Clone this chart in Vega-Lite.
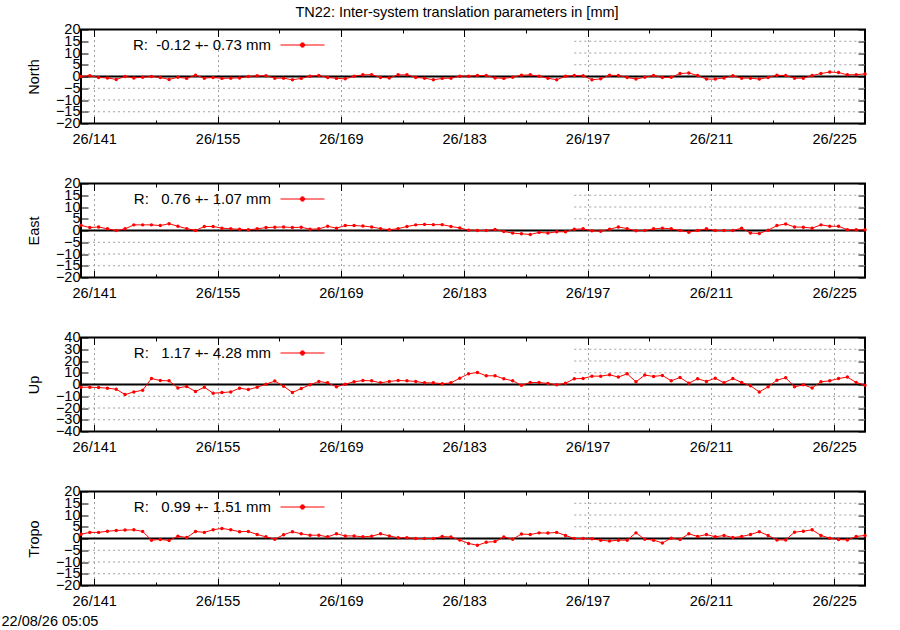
{
  "$schema": "https://vega.github.io/schema/vega-lite/v6.json",
  "description": "TN22 inter-system translation parameters, four stacked panels",
  "padding": {"left": 0, "top": 4.5, "right": 10, "bottom": 0},
  "title": {
    "text": "TN22: Inter-system translation parameters in [mm]",
    "font": "Liberation Sans",
    "fontSize": 14.5,
    "fontWeight": "normal",
    "color": "black",
    "anchor": "middle",
    "dx": 23,
    "offset": 0
  },
  "datasets": {
    "gnss": [
      {"day": 139.5, "north": 0, "east": 2.2, "up": -2.3, "tropo": 1.85},
      {"day": 140.5, "north": 0.3, "east": 1.25, "up": -2.3, "tropo": 2.6},
      {"day": 141.5, "north": -0.4, "east": 1.5, "up": -2.6, "tropo": 2.6},
      {"day": 142.5, "north": -0.6, "east": 0.7, "up": -3.1, "tropo": 3.1},
      {"day": 143.5, "north": -1.25, "east": 0, "up": -4.0, "tropo": 3.4},
      {"day": 144.5, "north": 0, "east": 0.7, "up": -8.6, "tropo": 3.6},
      {"day": 145.5, "north": -0.6, "east": 2.4, "up": -6.3, "tropo": 3.7},
      {"day": 146.5, "north": -0.3, "east": 2.4, "up": -4.9, "tropo": 3.0},
      {"day": 147.5, "north": 0, "east": 2.4, "up": 5.1, "tropo": -0.7},
      {"day": 148.5, "north": -0.4, "east": 2.1, "up": 3.4, "tropo": -0.4},
      {"day": 149.5, "north": -1.25, "east": 2.9, "up": 3.1, "tropo": -0.85},
      {"day": 150.5, "north": -0.3, "east": 1.8, "up": -2.9, "tropo": 1.0},
      {"day": 151.5, "north": -0.8, "east": 0.8, "up": -1.7, "tropo": 0.4},
      {"day": 152.5, "north": 0.55, "east": 0, "up": -6.0, "tropo": 3.0},
      {"day": 153.5, "north": -0.7, "east": 1.7, "up": -2.3, "tropo": 2.6},
      {"day": 154.5, "north": -0.4, "east": 1.7, "up": -7.4, "tropo": 3.7},
      {"day": 155.5, "north": -0.8, "east": 1.0, "up": -6.9, "tropo": 4.3},
      {"day": 156.5, "north": -0.7, "east": 0.7, "up": -6.3, "tropo": 3.7},
      {"day": 157.5, "north": -0.6, "east": 0.55, "up": -3.1, "tropo": 2.9},
      {"day": 158.5, "north": 0, "east": 0.3, "up": -4.3, "tropo": 3.0},
      {"day": 159.5, "north": 0.3, "east": 0.7, "up": -2.3, "tropo": 1.7},
      {"day": 160.5, "north": 0.3, "east": 1.25, "up": 0.3, "tropo": 0.7},
      {"day": 161.5, "north": -0.7, "east": 1.4, "up": 2.9, "tropo": -0.3},
      {"day": 162.5, "north": -0.7, "east": 1.5, "up": -1.4, "tropo": 1.6},
      {"day": 163.5, "north": -1.4, "east": 1.25, "up": -6.9, "tropo": 2.9},
      {"day": 164.5, "north": -0.8, "east": 1.4, "up": -3.4, "tropo": 2.0},
      {"day": 165.5, "north": 0.15, "east": 0.55, "up": -0.3, "tropo": 1.4},
      {"day": 166.5, "north": 0.4, "east": 0.7, "up": 2.6, "tropo": 1.4},
      {"day": 167.5, "north": -0.4, "east": 1.8, "up": 1.4, "tropo": 0.7},
      {"day": 168.5, "north": -0.8, "east": 1.0, "up": -2.0, "tropo": 2.0},
      {"day": 169.5, "north": -1.0, "east": 2.1, "up": 0.3, "tropo": 1.1},
      {"day": 170.5, "north": 0.15, "east": 2.1, "up": 2.3, "tropo": 1.1},
      {"day": 171.5, "north": 0.7, "east": 1.9, "up": 3.4, "tropo": 0.7},
      {"day": 172.5, "north": 0.8, "east": 1.5, "up": 3.1, "tropo": 1.0},
      {"day": 173.5, "north": -0.4, "east": 0.8, "up": 1.4, "tropo": 2.0},
      {"day": 174.5, "north": -0.6, "east": 0.3, "up": 2.6, "tropo": 1.1},
      {"day": 175.5, "north": 0.7, "east": 0.8, "up": 3.4, "tropo": 0.3},
      {"day": 176.5, "north": 0.7, "east": 1.7, "up": 3.1, "tropo": 0.3},
      {"day": 177.5, "north": -0.4, "east": 2.4, "up": 2.6, "tropo": 0},
      {"day": 178.5, "north": -0.7, "east": 2.6, "up": 1.4, "tropo": 0},
      {"day": 179.5, "north": -1.4, "east": 2.5, "up": 1.4, "tropo": 0},
      {"day": 180.5, "north": -0.8, "east": 2.5, "up": 0.6, "tropo": 0.85},
      {"day": 181.5, "north": -0.7, "east": 1.7, "up": 1.4, "tropo": 0.6},
      {"day": 182.5, "north": 0.15, "east": 1.1, "up": 5.4, "tropo": -0.6},
      {"day": 183.5, "north": 0.15, "east": 0.15, "up": 9.1, "tropo": -2.1},
      {"day": 184.5, "north": 0.4, "east": 0, "up": 10.3, "tropo": -2.9},
      {"day": 185.5, "north": 0.4, "east": 0, "up": 7.4, "tropo": -1.6},
      {"day": 186.5, "north": -0.6, "east": 0.4, "up": 7.4, "tropo": -1.3},
      {"day": 187.5, "north": -0.8, "east": -0.4, "up": 4.9, "tropo": 0.6},
      {"day": 188.5, "north": -0.3, "east": -1.1, "up": 3.1, "tropo": -0.3},
      {"day": 189.5, "north": 0.55, "east": -1.4, "up": -0.6, "tropo": 1.9},
      {"day": 190.5, "north": 0.7, "east": -1.7, "up": 1.7, "tropo": 1.7},
      {"day": 191.5, "north": 0.15, "east": -0.8, "up": 1.7, "tropo": 2.4},
      {"day": 192.5, "north": -0.7, "east": -1.1, "up": 0.9, "tropo": 2.3},
      {"day": 193.5, "north": -1.4, "east": -0.55, "up": -0.3, "tropo": 2.6},
      {"day": 194.5, "north": 0.15, "east": -0.55, "up": 1.1, "tropo": 1.3},
      {"day": 195.5, "north": 0.4, "east": 0.55, "up": 4.9, "tropo": 0},
      {"day": 196.5, "north": 0.3, "east": 0.7, "up": 5.1, "tropo": 0},
      {"day": 197.5, "north": -1.4, "east": -0.15, "up": 7.1, "tropo": -0.15},
      {"day": 198.5, "north": -1.0, "east": -0.3, "up": 7.1, "tropo": -0.7},
      {"day": 199.5, "north": 0.55, "east": 0.55, "up": 8.3, "tropo": -1.1},
      {"day": 200.5, "north": 0.4, "east": 1.5, "up": 6.3, "tropo": -0.7},
      {"day": 201.5, "north": -0.4, "east": 0.8, "up": 9.1, "tropo": -0.7},
      {"day": 202.5, "north": -1.1, "east": -0.15, "up": 2.3, "tropo": 2.4},
      {"day": 203.5, "north": -0.3, "east": 0, "up": 8.0, "tropo": -0.3},
      {"day": 204.5, "north": 0.4, "east": 0.7, "up": 6.9, "tropo": -0.7},
      {"day": 205.5, "north": -0.4, "east": 1.0, "up": 7.7, "tropo": -1.9},
      {"day": 206.5, "north": -0.3, "east": 0.7, "up": 3.1, "tropo": 0.15},
      {"day": 207.5, "north": 1.25, "east": 0, "up": 6.0, "tropo": -0.4},
      {"day": 208.5, "north": 1.5, "east": -0.7, "up": 1.1, "tropo": 2.0},
      {"day": 209.5, "north": 0.4, "east": 0, "up": 4.9, "tropo": 0.85},
      {"day": 210.5, "north": -1.1, "east": 0.7, "up": 2.6, "tropo": 1.7},
      {"day": 211.5, "north": -1.1, "east": 0, "up": 5.4, "tropo": 0.7},
      {"day": 212.5, "north": -0.6, "east": 0, "up": 1.4, "tropo": 1.3},
      {"day": 213.5, "north": 0.3, "east": 0, "up": 5.1, "tropo": 0.4},
      {"day": 214.5, "north": -0.7, "east": 1.0, "up": 1.7, "tropo": 0.85},
      {"day": 215.5, "north": -0.7, "east": -1.1, "up": -1.1, "tropo": 1.7},
      {"day": 216.5, "north": -1.1, "east": -1.25, "up": -6.3, "tropo": 2.9},
      {"day": 217.5, "north": -0.4, "east": 0.15, "up": -2.0, "tropo": 1.3},
      {"day": 218.5, "north": 0.55, "east": 2.1, "up": 3.7, "tropo": -0.6},
      {"day": 219.5, "north": 0.4, "east": 2.8, "up": 5.7, "tropo": -0.6},
      {"day": 220.5, "north": -0.7, "east": 1.5, "up": -2.0, "tropo": 2.7},
      {"day": 221.5, "north": -0.7, "east": 1.4, "up": -0.3, "tropo": 3.1},
      {"day": 222.5, "north": 0.4, "east": 1.0, "up": -2.9, "tropo": 3.7},
      {"day": 223.5, "north": 1.25, "east": 2.4, "up": 2.3, "tropo": 1.3},
      {"day": 224.5, "north": 1.9, "east": 1.8, "up": 3.1, "tropo": 0.15},
      {"day": 225.5, "north": 1.7, "east": 1.8, "up": 5.1, "tropo": -0.4},
      {"day": 226.5, "north": 0.7, "east": 0.3, "up": 6.3, "tropo": -0.6},
      {"day": 227.5, "north": 0.8, "east": 0.3, "up": 1.7, "tropo": 0.85},
      {"day": 228.5, "north": 1.1, "east": 0.3, "up": -0.6, "tropo": 1.3}
    ]
  },
  "spacing": 60,
  "bounds": "flush",
  "resolve": {
    "scale": {"x": "independent", "y": "independent", "color": "independent"},
    "legend": {"color": "independent"}
  },
  "vconcat": [
    {
      "width": 784,
      "height": 94,
      "layer": [
        {
          "data": {"values": [{"tick": -5}, {"tick": -10}, {"tick": -15}]},
          "mark": {"type": "rule", "color": "#a0a0a0", "strokeDash": [2, 3]},
          "encoding": {
            "y": {"field": "tick", "type": "quantitative", "scale": {"domain": [-20, 20], "nice": false},
              "axis": {"orient": "right", "values": [-20, -15, -10, -5, 0, 5, 10, 15, 20], "labels": false, "tickSize": -7, "grid": false, "title": null}}
          }
        },
        {
          "data": {"values": [{"tick": 5}, {"tick": 10}, {"tick": 15}]},
          "mark": {"type": "rule", "color": "#a0a0a0", "strokeDash": [2, 3]},
          "encoding": {
            "x": {"datum": 195.5, "type": "quantitative", "scale": {"domain": [139.5, 228.5], "nice": false, "zero": false},
              "axis": {"orient": "top", "values": [141, 148, 155, 162, 169, 176, 183, 190, 197, 204, 211, 218, 225], "labels": false, "grid": false, "title": null,
                "tickSize": {"condition": {"test": "datum.value % 14 == 1", "value": -7}, "value": -3.5}}},
            "x2": {"datum": 228.5},
            "y": {"field": "tick", "type": "quantitative", "scale": {"domain": [-20, 20], "nice": false}, "axis": null}
          }
        },
        {
          "data": {"values": [{}]},
          "mark": {"type": "rule", "color": "black", "strokeWidth": 2},
          "encoding": {
            "x": {"datum": 139.5, "type": "quantitative", "scale": {"domain": [139.5, 228.5], "nice": false, "zero": false},
              "axis": {"orient": "bottom", "values": [148, 162, 176, 190, 204, 218], "labels": false, "grid": false, "title": null, "tickSize": -3.5}},
            "x2": {"datum": 228.5},
            "y": {"datum": 0, "type": "quantitative", "scale": {"domain": [-20, 20], "nice": false}, "axis": null}
          }
        },
        {
          "data": {"name": "gnss"},
          "mark": {"type": "line", "color": "red", "strokeWidth": 1, "point": {"filled": true, "size": 12}},
          "encoding": {
            "x": {"field": "day", "type": "quantitative", "scale": {"domain": [139.5, 228.5], "nice": false, "zero": false},
              "axis": {"orient": "bottom", "values": [141, 155, 169, 183, 197, 211, 225], "labelExpr": "'26/' + datum.value",
                "grid": true, "gridColor": "#a0a0a0", "gridDash": [2, 3], "tickSize": -7, "labelPadding": 16, "title": null}},
            "y": {"field": "north", "type": "quantitative", "scale": {"domain": [-20, 20], "nice": false},
              "axis": {"orient": "left", "values": [-20, -15, -10, -5, 0, 5, 10, 15, 20], "tickSize": -7, "labelPadding": 8, "grid": false,
                "title": "North", "titleX": -43, "titleY": 47, "titleAngle": -90, "titleBaseline": "alphabetic"}},
            "color": {"datum": "R:\u00a0 -0.12 +- 0.73 mm", "scale": {"range": ["red"]},
              "legend": {"orient": "none", "legendX": 199, "legendY": -7, "title": null, "padding": 0,
                "symbolType": "M-1,0L1,0M0.1,0A0.1,0.1,0,1,1,-0.1,0A0.1,0.1,0,1,1,0.1,0Z", "symbolSize": 1936,
                "labelAlign": "right", "labelOffset": -54, "labelLimit": 400,
                "encode": {"symbols": {"update": {"fill": {"value": "red"}, "stroke": {"value": "red"}, "strokeWidth": {"value": 1}}}}}}
          }
        }
      ],
      "resolve": {"axis": {"x": "independent", "y": "independent"}}
    },
    {
      "width": 784,
      "height": 94,
      "layer": [
        {
          "data": {"values": [{"tick": -5}, {"tick": -10}, {"tick": -15}]},
          "mark": {"type": "rule", "color": "#a0a0a0", "strokeDash": [2, 3]},
          "encoding": {
            "y": {"field": "tick", "type": "quantitative", "scale": {"domain": [-20, 20], "nice": false},
              "axis": {"orient": "right", "values": [-20, -15, -10, -5, 0, 5, 10, 15, 20], "labels": false, "tickSize": -7, "grid": false, "title": null}}
          }
        },
        {
          "data": {"values": [{"tick": 5}, {"tick": 10}, {"tick": 15}]},
          "mark": {"type": "rule", "color": "#a0a0a0", "strokeDash": [2, 3]},
          "encoding": {
            "x": {"datum": 195.5, "type": "quantitative", "scale": {"domain": [139.5, 228.5], "nice": false, "zero": false},
              "axis": {"orient": "top", "values": [141, 148, 155, 162, 169, 176, 183, 190, 197, 204, 211, 218, 225], "labels": false, "grid": false, "title": null,
                "tickSize": {"condition": {"test": "datum.value % 14 == 1", "value": -7}, "value": -3.5}}},
            "x2": {"datum": 228.5},
            "y": {"field": "tick", "type": "quantitative", "scale": {"domain": [-20, 20], "nice": false}, "axis": null}
          }
        },
        {
          "data": {"values": [{}]},
          "mark": {"type": "rule", "color": "black", "strokeWidth": 2},
          "encoding": {
            "x": {"datum": 139.5, "type": "quantitative", "scale": {"domain": [139.5, 228.5], "nice": false, "zero": false},
              "axis": {"orient": "bottom", "values": [148, 162, 176, 190, 204, 218], "labels": false, "grid": false, "title": null, "tickSize": -3.5}},
            "x2": {"datum": 228.5},
            "y": {"datum": 0, "type": "quantitative", "scale": {"domain": [-20, 20], "nice": false}, "axis": null}
          }
        },
        {
          "data": {"name": "gnss"},
          "mark": {"type": "line", "color": "red", "strokeWidth": 1, "point": {"filled": true, "size": 12}},
          "encoding": {
            "x": {"field": "day", "type": "quantitative", "scale": {"domain": [139.5, 228.5], "nice": false, "zero": false},
              "axis": {"orient": "bottom", "values": [141, 155, 169, 183, 197, 211, 225], "labelExpr": "'26/' + datum.value",
                "grid": true, "gridColor": "#a0a0a0", "gridDash": [2, 3], "tickSize": -7, "labelPadding": 16, "title": null}},
            "y": {"field": "east", "type": "quantitative", "scale": {"domain": [-20, 20], "nice": false},
              "axis": {"orient": "left", "values": [-20, -15, -10, -5, 0, 5, 10, 15, 20], "tickSize": -7, "labelPadding": 8, "grid": false,
                "title": "East", "titleX": -43, "titleY": 47, "titleAngle": -90, "titleBaseline": "alphabetic"}},
            "color": {"datum": "R:\u00a0 \u00a00.76 +- 1.07 mm", "scale": {"range": ["red"]},
              "legend": {"orient": "none", "legendX": 199, "legendY": -7, "title": null, "padding": 0,
                "symbolType": "M-1,0L1,0M0.1,0A0.1,0.1,0,1,1,-0.1,0A0.1,0.1,0,1,1,0.1,0Z", "symbolSize": 1936,
                "labelAlign": "right", "labelOffset": -54, "labelLimit": 400,
                "encode": {"symbols": {"update": {"fill": {"value": "red"}, "stroke": {"value": "red"}, "strokeWidth": {"value": 1}}}}}}
          }
        }
      ],
      "resolve": {"axis": {"x": "independent", "y": "independent"}}
    },
    {
      "width": 784,
      "height": 94,
      "layer": [
        {
          "data": {"values": [{"tick": -10}, {"tick": -20}, {"tick": -30}]},
          "mark": {"type": "rule", "color": "#a0a0a0", "strokeDash": [2, 3]},
          "encoding": {
            "y": {"field": "tick", "type": "quantitative", "scale": {"domain": [-40, 40], "nice": false},
              "axis": {"orient": "right", "values": [-40, -30, -20, -10, 0, 10, 20, 30, 40], "labels": false, "tickSize": -7, "grid": false, "title": null}}
          }
        },
        {
          "data": {"values": [{"tick": 10}, {"tick": 20}, {"tick": 30}]},
          "mark": {"type": "rule", "color": "#a0a0a0", "strokeDash": [2, 3]},
          "encoding": {
            "x": {"datum": 195.5, "type": "quantitative", "scale": {"domain": [139.5, 228.5], "nice": false, "zero": false},
              "axis": {"orient": "top", "values": [141, 148, 155, 162, 169, 176, 183, 190, 197, 204, 211, 218, 225], "labels": false, "grid": false, "title": null,
                "tickSize": {"condition": {"test": "datum.value % 14 == 1", "value": -7}, "value": -3.5}}},
            "x2": {"datum": 228.5},
            "y": {"field": "tick", "type": "quantitative", "scale": {"domain": [-40, 40], "nice": false}, "axis": null}
          }
        },
        {
          "data": {"values": [{}]},
          "mark": {"type": "rule", "color": "black", "strokeWidth": 2},
          "encoding": {
            "x": {"datum": 139.5, "type": "quantitative", "scale": {"domain": [139.5, 228.5], "nice": false, "zero": false},
              "axis": {"orient": "bottom", "values": [148, 162, 176, 190, 204, 218], "labels": false, "grid": false, "title": null, "tickSize": -3.5}},
            "x2": {"datum": 228.5},
            "y": {"datum": 0, "type": "quantitative", "scale": {"domain": [-40, 40], "nice": false}, "axis": null}
          }
        },
        {
          "data": {"name": "gnss"},
          "mark": {"type": "line", "color": "red", "strokeWidth": 1, "point": {"filled": true, "size": 12}},
          "encoding": {
            "x": {"field": "day", "type": "quantitative", "scale": {"domain": [139.5, 228.5], "nice": false, "zero": false},
              "axis": {"orient": "bottom", "values": [141, 155, 169, 183, 197, 211, 225], "labelExpr": "'26/' + datum.value",
                "grid": true, "gridColor": "#a0a0a0", "gridDash": [2, 3], "tickSize": -7, "labelPadding": 16, "title": null}},
            "y": {"field": "up", "type": "quantitative", "scale": {"domain": [-40, 40], "nice": false},
              "axis": {"orient": "left", "values": [-40, -30, -20, -10, 0, 10, 20, 30, 40], "tickSize": -7, "labelPadding": 8, "grid": false,
                "title": "Up", "titleX": -43, "titleY": 47, "titleAngle": -90, "titleBaseline": "alphabetic"}},
            "color": {"datum": "R:\u00a0 \u00a01.17 +- 4.28 mm", "scale": {"range": ["red"]},
              "legend": {"orient": "none", "legendX": 199, "legendY": -7, "title": null, "padding": 0,
                "symbolType": "M-1,0L1,0M0.1,0A0.1,0.1,0,1,1,-0.1,0A0.1,0.1,0,1,1,0.1,0Z", "symbolSize": 1936,
                "labelAlign": "right", "labelOffset": -54, "labelLimit": 400,
                "encode": {"symbols": {"update": {"fill": {"value": "red"}, "stroke": {"value": "red"}, "strokeWidth": {"value": 1}}}}}}
          }
        }
      ],
      "resolve": {"axis": {"x": "independent", "y": "independent"}}
    },
    {
      "width": 784,
      "height": 94,
      "layer": [
        {
          "data": {"values": [{"tick": -5}, {"tick": -10}, {"tick": -15}]},
          "mark": {"type": "rule", "color": "#a0a0a0", "strokeDash": [2, 3]},
          "encoding": {
            "y": {"field": "tick", "type": "quantitative", "scale": {"domain": [-20, 20], "nice": false},
              "axis": {"orient": "right", "values": [-20, -15, -10, -5, 0, 5, 10, 15, 20], "labels": false, "tickSize": -7, "grid": false, "title": null}}
          }
        },
        {
          "data": {"values": [{"tick": 5}, {"tick": 10}, {"tick": 15}]},
          "mark": {"type": "rule", "color": "#a0a0a0", "strokeDash": [2, 3]},
          "encoding": {
            "x": {"datum": 195.5, "type": "quantitative", "scale": {"domain": [139.5, 228.5], "nice": false, "zero": false},
              "axis": {"orient": "top", "values": [141, 148, 155, 162, 169, 176, 183, 190, 197, 204, 211, 218, 225], "labels": false, "grid": false, "title": null,
                "tickSize": {"condition": {"test": "datum.value % 14 == 1", "value": -7}, "value": -3.5}}},
            "x2": {"datum": 228.5},
            "y": {"field": "tick", "type": "quantitative", "scale": {"domain": [-20, 20], "nice": false}, "axis": null}
          }
        },
        {
          "data": {"values": [{}]},
          "mark": {"type": "rule", "color": "black", "strokeWidth": 2},
          "encoding": {
            "x": {"datum": 139.5, "type": "quantitative", "scale": {"domain": [139.5, 228.5], "nice": false, "zero": false},
              "axis": {"orient": "bottom", "values": [148, 162, 176, 190, 204, 218], "labels": false, "grid": false, "title": null, "tickSize": -3.5}},
            "x2": {"datum": 228.5},
            "y": {"datum": 0, "type": "quantitative", "scale": {"domain": [-20, 20], "nice": false}, "axis": null}
          }
        },
        {
          "data": {"name": "gnss"},
          "mark": {"type": "line", "color": "red", "strokeWidth": 1, "point": {"filled": true, "size": 12}},
          "encoding": {
            "x": {"field": "day", "type": "quantitative", "scale": {"domain": [139.5, 228.5], "nice": false, "zero": false},
              "axis": {"orient": "bottom", "values": [141, 155, 169, 183, 197, 211, 225], "labelExpr": "'26/' + datum.value",
                "grid": true, "gridColor": "#a0a0a0", "gridDash": [2, 3], "tickSize": -7, "labelPadding": 16,
                "title": "22/08/26 05:05", "titleX": -80, "titleY": 40, "titleAlign": "left", "titleBaseline": "alphabetic"}},
            "y": {"field": "tropo", "type": "quantitative", "scale": {"domain": [-20, 20], "nice": false},
              "axis": {"orient": "left", "values": [-20, -15, -10, -5, 0, 5, 10, 15, 20], "tickSize": -7, "labelPadding": 8, "grid": false,
                "title": "Tropo", "titleX": -43, "titleY": 47, "titleAngle": -90, "titleBaseline": "alphabetic"}},
            "color": {"datum": "R:\u00a0 \u00a00.99 +- 1.51 mm", "scale": {"range": ["red"]},
              "legend": {"orient": "none", "legendX": 199, "legendY": -7, "title": null, "padding": 0,
                "symbolType": "M-1,0L1,0M0.1,0A0.1,0.1,0,1,1,-0.1,0A0.1,0.1,0,1,1,0.1,0Z", "symbolSize": 1936,
                "labelAlign": "right", "labelOffset": -54, "labelLimit": 400,
                "encode": {"symbols": {"update": {"fill": {"value": "red"}, "stroke": {"value": "red"}, "strokeWidth": {"value": 1}}}}}}
          }
        }
      ],
      "resolve": {"axis": {"x": "independent", "y": "independent"}}
    }
  ],
  "config": {
    "background": "white",
    "view": {"stroke": "black", "strokeWidth": 2},
    "axis": {
      "domain": false,
      "tickColor": "black",
      "tickWidth": 1,
      "labelFont": "Liberation Sans",
      "labelFontSize": 14.5,
      "labelColor": "black",
      "labelOverlap": false,
      "labelFlush": false,
      "titleFont": "Liberation Sans",
      "titleFontSize": 14.5,
      "titleFontWeight": "normal",
      "titleColor": "black"
    },
    "legend": {
      "labelFont": "Liberation Sans",
      "labelFontSize": 15,
      "labelColor": "black"
    }
  }
}
